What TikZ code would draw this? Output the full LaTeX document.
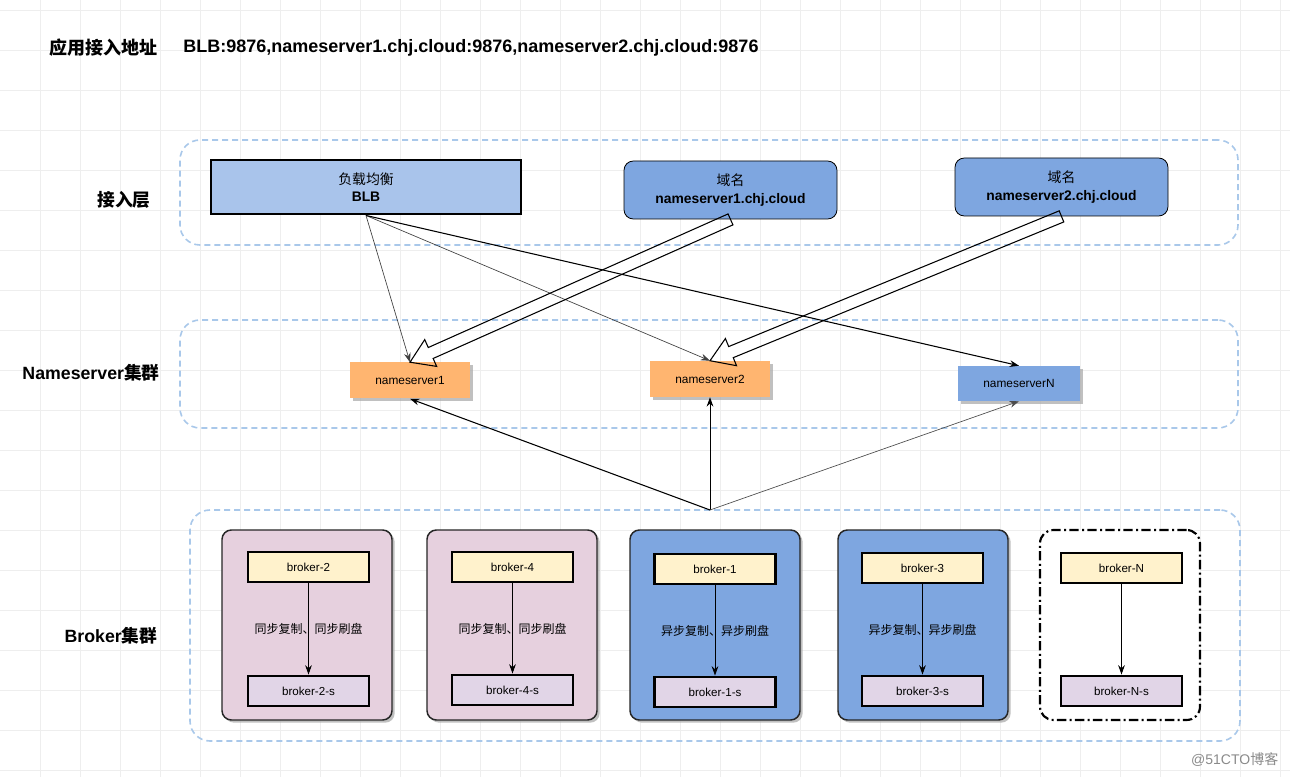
\documentclass[tikz,border=0pt]{standalone}
\usepackage{fontspec}
\setmainfont{Liberation Sans}
\newfontfamily\cjk{Noto Sans CJK SC}
\usetikzlibrary{arrows.meta,calc,shadows}
\definecolor{gridc}{HTML}{EEEEEE}
\definecolor{dashc}{HTML}{A9C8EA}
\definecolor{blbfill}{HTML}{A9C4EB}
\definecolor{bluefill}{HTML}{7EA6E0}
\definecolor{orangefill}{HTML}{FFB570}
\definecolor{pinkfill}{HTML}{E6D0DE}
\definecolor{yellowfill}{HTML}{FFF2CC}
\definecolor{purplefill}{HTML}{E1D5E7}
\definecolor{wmark}{HTML}{8A8A8A}
\tikzset{
  layerbox/.style 2 args={draw=dashc, line width=1.2pt, dash pattern=on 4.5pt off 3pt, rounded corners=15pt, minimum width=#1, minimum height=#2, inner sep=0pt},
  lbl/.style={font=\bfseries\fontsize{13.3}{15}\selectfont},
  ttlf/.style={font=\bfseries\fontsize{13.5}{15}\selectfont},
  blbbox/.style={draw=black, line width=2.2pt, fill=blbfill, minimum width=232.5pt, minimum height=40.5pt, align=center, font=\fontsize{10.4}{13}\selectfont},
  dombox/.style={draw=black, line width=0.6pt, fill=bluefill, rounded corners=7pt, minimum width=159.75pt, minimum height=43.5pt, align=center, font=\fontsize{10.4}{13}\selectfont},
  nsbox/.style={fill=#1, minimum width=90pt, minimum height=27pt, font=\fontsize{8.9}{10}\selectfont, drop shadow={shadow xshift=2pt, shadow yshift=-2pt, fill=black!35, opacity=0.7}},
  grp/.style={draw=black!85, line width=1.1pt, fill=#1, rounded corners=7pt, minimum width=127.5pt, minimum height=142.5pt, drop shadow={shadow xshift=2pt, shadow yshift=-2pt, fill=black!35, opacity=0.7}},
  grpdd/.style={draw=black, line width=1.6pt, dash pattern=on 7pt off 2.5pt on 1.5pt off 2.5pt, fill=white, rounded corners=10pt, minimum width=120pt, minimum height=142.5pt},
  brk/.style={draw=black, line width=2.2pt, fill=#1, minimum width=90.75pt, minimum height=22.5pt, font=\fontsize{8.7}{10}\selectfont},
  conn/.style={-{Stealth[length=7pt,width=5pt]}, line width=#1},
  conn/.default=0.6pt,
  rep/.style={font=\cjk\fontsize{9}{11}\selectfont},
  flexa/.style={draw=black, line width=0.8pt, line join=miter}
}
\newcommand\myflex[2]{%
  \coordinate (fa-a) at (#1);
  \coordinate (fa-b) at (#2);
  \coordinate (fa-c) at ($(fa-b)!17pt!(fa-a)$);
  \draw[flexa] ($(fa-a)!4.5pt!90:(fa-b)$) -- ($(fa-c)!4.5pt!90:(fa-b)$) -- ($(fa-c)!11pt!90:(fa-b)$) -- (fa-b) -- ($(fa-c)!11pt!-90:(fa-b)$) -- ($(fa-c)!4.5pt!-90:(fa-b)$) -- ($(fa-a)!4.5pt!-90:(fa-b)$) -- cycle;
}
\begin{document}
\begin{tikzpicture}[x=0.75pt,y=-0.75pt]
\useasboundingbox (0,0) rectangle (1290,777);
\fill[white] (0,0) rectangle (1290,777);
% grid
\foreach \gx in {40,80,...,1280} \draw[gridc, line width=0.5pt] (\gx,0) -- (\gx,777);
\foreach \gy in {10,50,...,770} \draw[gridc, line width=0.5pt] (0,\gy) -- (1290,\gy);

% title
\node[ttlf] (ttl) at (104,48) {\cjk 应用接入地址};
\node[ttlf, anchor=west, inner sep=0pt] (addr) at (183,48) {BLB:9876,nameserver1.chj.cloud:9876,nameserver2.chj.cloud:9876};

% layer containers
\node[layerbox={793.5pt}{78.75pt}] (c1) at (709,192.5) {};
\node[layerbox={793.5pt}{81pt}] (c2) at (709,374) {};
\node[layerbox={787.5pt}{173.25pt}] (c3) at (715,625.5) {};

% layer labels
\node[lbl] (l1) at (124,200) {\cjk 接入层};
\node[lbl] (l2) at (91,373) {Nameserver{\cjk 集群}};
\node[lbl] (l3) at (111,636) {Broker{\cjk 集群}};

% access layer
\node[blbbox] (blb) at (366,187) {{\cjk 负载均衡}\\\textbf{BLB}};
\node[dombox] (d1) at (730.5,190) {{\cjk 域名}\\\textbf{nameserver1.chj.cloud}};
\node[dombox] (d2) at (1061.5,187) {{\cjk 域名}\\\textbf{nameserver2.chj.cloud}};

% nameservers
\node[nsbox=orangefill] (ns1) at (410,380.5) {nameserver1};
\node[nsbox=orangefill] (ns2) at (710,379) {nameserver2};
\node[nsbox=bluefill, minimum height=26.25pt, minimum width=91.5pt] (nsN) at (1019,383.5) {nameserverN};

% BLB connectors
\draw[conn=0.5pt, black!75] (blb.south) -- (ns1.north);
\draw[conn=0.5pt, black!75] (blb.south) -- (ns2.north);
\draw[conn=0.8pt] (blb.south) -- (nsN.north);

% domain hollow arrows
\myflex{d1.south}{ns1.north}
\myflex{d2.south}{ns2.north}

% broker groups
\node[grp=pinkfill] (g1) at (307,625) {};
\node[grp=pinkfill] (g2) at (512,625) {};
\node[grp=bluefill] (g3) at (715,625) {};
\node[grp=bluefill] (g4) at (923,625) {};
\node[grpdd] (g5) at (1120,625) {};

\node[brk=yellowfill] (b2) at (308.5,567) {broker-2};
\node[brk=purplefill] (b2s) at (308.5,691) {broker-2-s};
\node[brk=yellowfill] (b4) at (512.5,567) {broker-4};
\node[brk=purplefill] (b4s) at (512.5,690) {broker-4-s};
\node[brk=yellowfill] (b1) at (715,569) {broker-1};
\node[brk=purplefill] (b1s) at (715,692) {broker-1-s};
\node[brk=yellowfill] (b3) at (922.5,568) {broker-3};
\node[brk=purplefill] (b3s) at (922.5,691) {broker-3-s};
\node[brk=yellowfill] (bN) at (1121.5,568) {broker-N};
\node[brk=purplefill] (bNs) at (1121.5,691) {broker-N-s};

\draw[conn] (b2) -- node[rep] (r2) {同步复制、同步刷盘} (b2s);
\draw[conn] (b4) -- node[rep] (r4) {同步复制、同步刷盘} (b4s);
\draw[conn] (b1) -- node[rep] (r1) {异步复制、异步刷盘} (b1s);
\draw[conn] (b3) -- node[rep] (r3) {异步复制、异步刷盘} (b3s);
\draw[conn] (bN) -- (bNs);

% broker registration arrows
\coordinate (hub) at (710,510);
\draw[conn=0.8pt] (hub) -- (ns1.south);
\draw[conn=0.7pt] (hub) -- (ns2.south);
\draw[conn=0.5pt, black!70] (hub) -- (nsN.south);

% watermark
\node[text=wmark, font=\fontsize{10.5}{12}\selectfont, anchor=east] (wm) at (1283,760) {@51CTO{\cjk 博客}};
\end{tikzpicture}
\end{document}
